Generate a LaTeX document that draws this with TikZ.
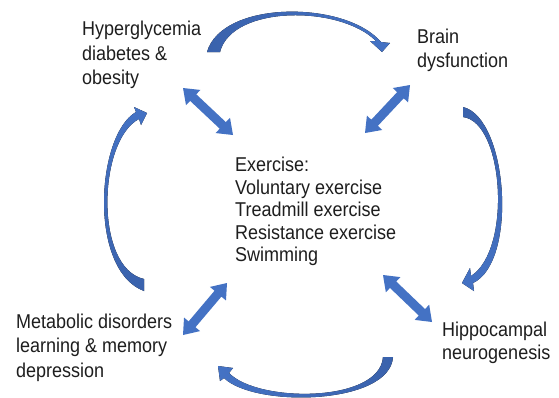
\documentclass[tikz,border=0pt]{standalone}
\usepackage{fontspec}
\setmainfont[FakeStretch=0.9]{Liberation Sans}
\usetikzlibrary{calc}
\definecolor{arrowblue}{RGB}{68,114,196}
\definecolor{arrowdark}{RGB}{58,98,172}
\definecolor{txt}{RGB}{30,30,30}
\newcommand\dblarr[2]{%
  \fill[arrowblue] (#1)
    -- ($(#1)!14pt!(#2)!10.5pt!90:(#2)$)
    -- ($(#1)!14pt!(#2)!4.5pt!90:(#2)$)
    -- ($(#2)!14pt!(#1)!4.5pt!-90:(#1)$)
    -- ($(#2)!14pt!(#1)!10.5pt!-90:(#1)$)
    -- (#2)
    -- ($(#2)!14pt!(#1)!10.5pt!90:(#1)$)
    -- ($(#2)!14pt!(#1)!4.5pt!90:(#1)$)
    -- ($(#1)!14pt!(#2)!4.5pt!-90:(#2)$)
    -- ($(#1)!14pt!(#2)!10.5pt!-90:(#2)$)
    -- cycle;}
\tikzset{
  lbl/.style={anchor=base west, inner sep=0pt, text=txt},
  wide/.style={font=\fontsize{20}{24.5}\selectfont},
  tight/.style={font=\fontsize{20}{22.5}\selectfont},
}
\begin{document}
\begin{tikzpicture}[x=1pt,y=-1pt]
\fill[white] (0,0) rectangle (559,397);
\useasboundingbox (0,0) rectangle (559,397);

% text nodes
\node[lbl,wide] (hyper) at (82,35.5) {\begin{tabular}[t]{@{}l@{}}Hyperglycemia\\diabetes \&\\obesity\end{tabular}};
\node[lbl,wide] (brain) at (417,43) {\begin{tabular}[t]{@{}l@{}}Brain\\dysfunction\end{tabular}};
\node[lbl,tight] (exer) at (235,171.7) {\begin{tabular}[t]{@{}l@{}}Exercise:\\Voluntary exercise\\Treadmill exercise\\Resistance exercise\\Swimming\end{tabular}};
\node[lbl,wide] (metab) at (16,328) {\begin{tabular}[t]{@{}l@{}}Metabolic disorders\\learning \& memory\\depression\end{tabular}};
\node[lbl,font=\fontsize{20}{23}\selectfont] (hippo) at (442,336) {\begin{tabular}[t]{@{}l@{}}Hippocampal\\neurogenesis\end{tabular}};

% double arrows between outer labels and the exercise block
\coordinate (d1a) at (183,88);  \coordinate (d1b) at (233,135);
\coordinate (d2a) at (410,85);  \coordinate (d2b) at (365,133);
\coordinate (d3a) at (383,275); \coordinate (d3b) at (432,322);
\coordinate (d4a) at (227,283); \coordinate (d4b) at (183,335);
\dblarr{d1a}{d1b}
\dblarr{d2a}{d2b}
\dblarr{d3a}{d3b}
\dblarr{d4a}{d4b}

% curved arrows (cycle)
\fill[left color=arrowdark,right color=arrowblue]
  (207,52) .. controls (222,0) and (345,0) .. (381,42)
  -- (390,43) -- (382,52) -- (370,41) -- (376,41)
  .. controls (340,5) and (232,5) .. (220,52) -- cycle;
\fill[top color=arrowdark,bottom color=arrowblue]
  (463,107) .. controls (508,118) and (518,262) .. (473,283)
  -- (474,291) -- (462,283) -- (470,268) -- (471,276)
  .. controls (512,250) and (504,122) .. (463,117) -- cycle;
\fill[right color=arrowdark,left color=arrowblue]
  (393,357) .. controls (390,405) and (255,408) .. (224,378)
  -- (220,381) -- (218,366) -- (233,368) -- (229,373)
  .. controls (258,403) and (380,403) .. (383,357) -- cycle;
\fill[bottom color=arrowdark,top color=arrowblue]
  (144,291) .. controls (88,270) and (96,135) .. (136,112)
  -- (134,107) -- (147,113) -- (141,125) -- (139,119)
  .. controls (98,140) and (94,268) .. (144,279) -- cycle;
\end{tikzpicture}
\end{document}
